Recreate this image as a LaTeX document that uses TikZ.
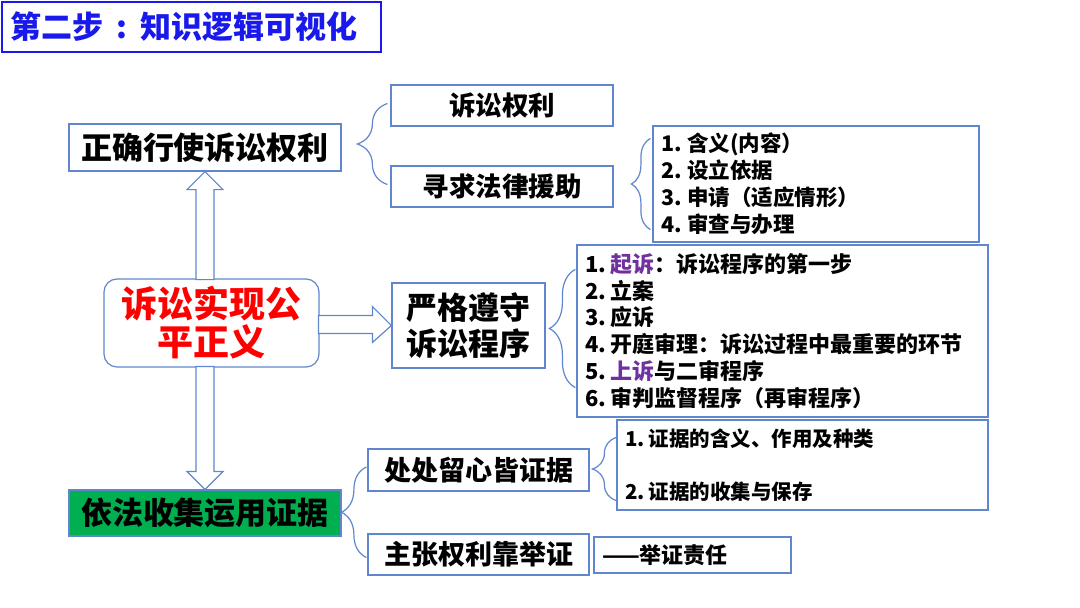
\documentclass[tikz,border=0pt]{standalone}
\usepackage{fontspec}
\setmainfont{Noto Sans CJK SC}
\usepackage{tikz}
\usetikzlibrary{calc,decorations.pathreplacing}

\definecolor{lineblue}{RGB}{96,135,205}
\definecolor{titleblue}{RGB}{25,25,235}
\definecolor{evgreen}{RGB}{0,176,80}
\definecolor{keypurple}{RGB}{112,48,160}

\begin{document}
\begin{tikzpicture}[x=1pt, y=-1pt,
  every node/.style={inner sep=0pt, font=\bfseries},
  box/.style={draw=lineblue, line width=1.2pt, fill=white, align=center},
  listbox/.style={box, align=left, inner xsep=8pt},
  hollow/.style={draw=lineblue, line width=1.2pt, fill=white, line join=miter},
  brc/.style={draw=lineblue, line width=1.2pt, decorate, decoration={brace, amplitude=#1}}
]

\fill[white] (0,0) rectangle (1080,608);
\useasboundingbox (0,0) rectangle (1080,608);

% title
\node[draw=titleblue, line width=1.5pt, minimum width=379pt, minimum height=50pt, text width=363pt, inner xsep=8pt, align=left, text=titleblue, font=\bfseries\fontsize{31}{36}\selectfont] (title) at (191.5,27) {第二步\makebox[1.2em]{:}知识逻辑可视化};

% top branch
\node[box, minimum width=272pt, minimum height=47pt, font=\bfseries\fontsize{31}{36}\selectfont] (right) at (205,147.5) {正确行使诉讼权利};
\node[box, minimum width=222pt, minimum height=41pt, font=\bfseries\fontsize{26.5}{30}\selectfont] (quan) at (502,105.5) {诉讼权利};
\node[box, minimum width=222pt, minimum height=41pt, font=\bfseries\fontsize{26.5}{30}\selectfont] (aid) at (502,186.5) {寻求法律援助};
\node[listbox, text width=310pt, minimum height=116pt, font=\bfseries\fontsize{21.5}{27}\selectfont] (aidlist) at (816,184) {1.\hspace{.25em}含义(内容）\\2.\hspace{.25em}设立依据\\3.\hspace{.25em}申请（适应情形）\\4.\hspace{.25em}审查与办理};

% middle
\node[box, rounded corners=13pt, minimum width=215pt, minimum height=88pt, text=red, font=\bfseries\fontsize{36}{38}\selectfont] (fair) at (211.5,323) {诉讼实现公\\平正义};
\node[box, minimum width=153pt, minimum height=85pt, font=\bfseries\fontsize{31}{36}\selectfont] (strict) at (468.5,325.5) {严格遵守\\诉讼程序};
\node[listbox, text width=395pt, minimum height=172pt, font=\bfseries\fontsize{22}{26.8}\selectfont] (steps) at (782.5,331) {1.\hspace{.2em}\textcolor{keypurple}{起诉}：诉讼程序的第一步\\2.\hspace{.2em}立案\\3.\hspace{.2em}应诉\\4.\hspace{.2em}开庭审理：诉讼过程中最重要的环节\\5.\hspace{.2em}\textcolor{keypurple}{上诉}与二审程序\\6.\hspace{.2em}审判监督程序（再审程序）};

% bottom branch
\node[box, fill=evgreen, minimum width=272pt, minimum height=46pt, font=\bfseries\fontsize{31}{36}\selectfont] (proof) at (205,513) {依法收集运用证据};
\node[box, minimum width=221pt, minimum height=42pt, font=\bfseries\fontsize{27}{30}\selectfont] (care) at (478.5,470) {处处留心皆证据};
\node[listbox, text width=355pt, minimum height=90pt, font=\bfseries\fontsize{20.5}{26.5}\selectfont] (prooflist) at (802.5,465) {1.\hspace{.2em}证据的含义、作用及种类\\[26.5pt]2.\hspace{.2em}证据的收集与保存};
\node[box, minimum width=221pt, minimum height=41pt, font=\bfseries\fontsize{27}{30}\selectfont] (claim) at (478.5,554.5) {主张权利靠举证};
\node[listbox, text width=181pt, minimum height=36pt, font=\bfseries\fontsize{22}{26}\selectfont] (burden) at (692.5,555) {——举证责任};

% hollow arrows
\draw[hollow] (right.south) -- ++(18,18) -- ++(-9,0) -- ++(0,90) -- ++(-18,0) -- ++(0,-90) -- ++(-9,0) -- cycle;
\draw[hollow] (proof.north) -- ++(18,-18) -- ++(-9,0) -- ++(0,-105) -- ++(-18,0) -- ++(0,105) -- ++(-9,0) -- cycle;
\draw[hollow] (strict.west) -- ++(-19,-19) -- ++(0,9) -- ++(-54,0) -- ++(0,18) -- ++(54,0) -- ++(0,9) -- cycle;

% braces
\draw[brc=30pt] ($(aid.west)+(-3,-2)$) -- ($(quan.west)+(-3,-2)$);
\draw[brc=19pt] ($(aidlist.south west)+(-2,-13)$) -- ($(aidlist.north west)+(-2,13)$);
\draw[brc=26pt] ($(steps.south west)+(-1,-30)$) -- ($(steps.north west)+(-1,25)$);
\draw[brc=25pt] ($(claim.west)+(-1,3)$) -- ($(care.west)+(-1,-3)$);
\draw[brc=24pt] ($(prooflist.south west)+(0,-10)$) -- ($(prooflist.north west)+(0,18)$);

\end{tikzpicture}
\end{document}
